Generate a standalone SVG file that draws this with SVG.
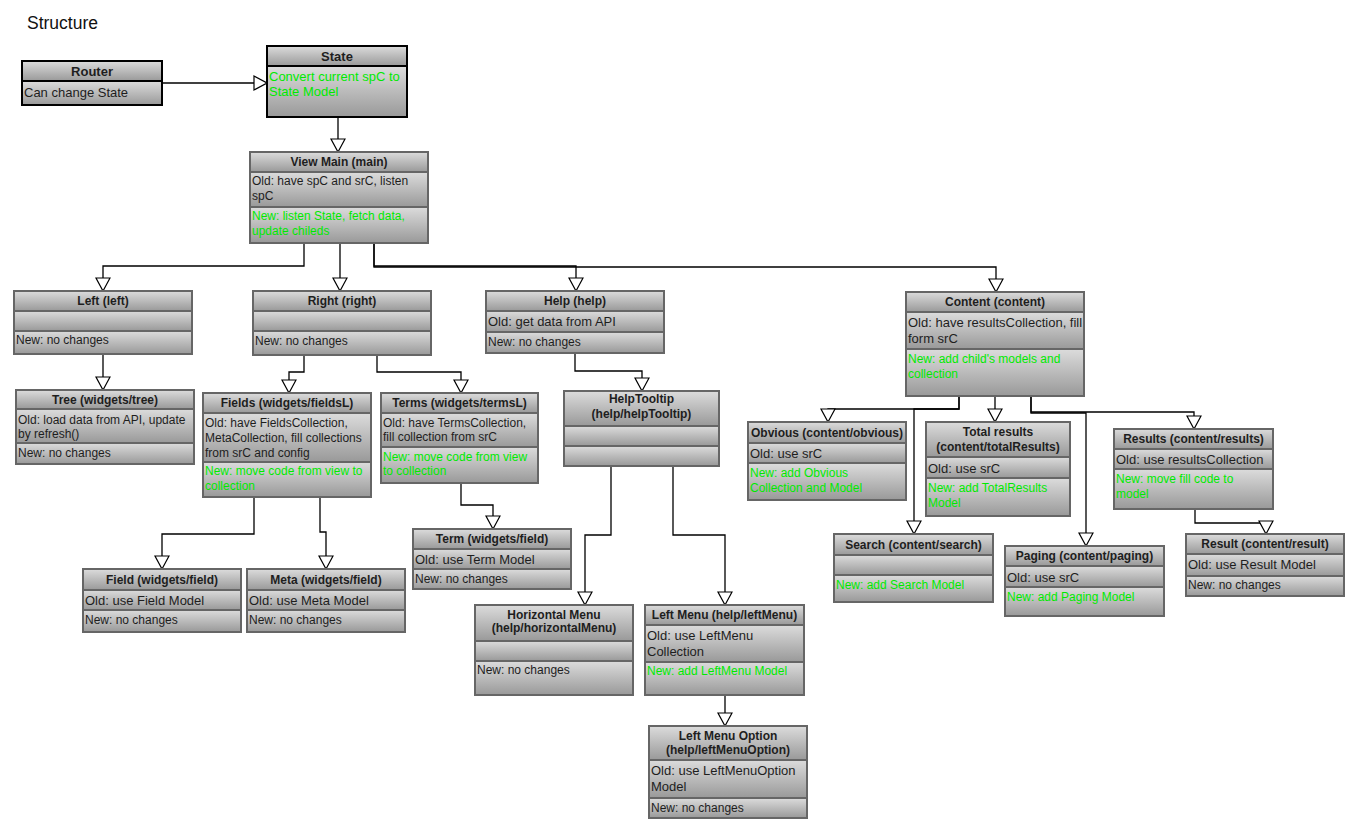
<svg xmlns="http://www.w3.org/2000/svg" width="1364" height="838" viewBox="0 0 1364 838">
<defs>
<linearGradient id="g" x1="0" y1="0" x2="0" y2="1"><stop offset="0" stop-color="#dcdcdc"/><stop offset="1" stop-color="#999"/></linearGradient>
<marker id="tri" viewBox="0 0 15 16" refX="14" refY="8" markerWidth="15" markerHeight="16" markerUnits="userSpaceOnUse" orient="auto"><path d="M1,1 L14,8 L1,15 Z" fill="#fff" stroke="#000" stroke-width="1.2"/></marker>
</defs>
<style>
.b{fill:url(#g);stroke:#666;stroke-width:2}
.k{fill:url(#g);stroke:#000;stroke-width:2}
.h{font-family:"Liberation Sans",Arial,sans-serif;font-size:12px;font-weight:bold;fill:#1e1e1e;text-anchor:middle}
.t{font-family:"Liberation Sans",Arial,sans-serif;font-size:12px;fill:#1e1e1e}
.o{font-family:"Liberation Sans",Arial,sans-serif;font-size:13px;fill:#1e1e1e}
.n{font-family:"Liberation Sans",Arial,sans-serif;font-size:12px;fill:#00ea00}
.big{font-size:13px}
.c{fill:none;stroke:#000;stroke-width:1.3;marker-end:url(#tri)}
</style>
<rect width="1364" height="838" fill="#fff"/>
<text x="27" y="29" font-family="Liberation Sans, Arial, sans-serif" font-size="17.5" fill="#111">Structure</text>

<g id="connectors">
<path class="c" d="M162,83 H267"/>
<path class="c" d="M338,117 V152"/>
<path class="c" d="M304,243 V266 H103 V291"/>
<path class="c" d="M340,243 V291"/>
<path class="c" d="M374,243 V266 H576 V291"/>
<path class="c" d="M374,243 V267 H996 V292"/>
<path class="c" d="M103,354 V390"/>
<path class="c" d="M304,355 V372 H289 V393"/>
<path class="c" d="M377,355 V372 H461 V393"/>
<path class="c" d="M254,497 V534 H162 V569"/>
<path class="c" d="M320,497 V532 H326 V569"/>
<path class="c" d="M461,483 V505 H493 V529"/>
<path class="c" d="M575,353 V371 H642 V391"/>
<path class="c" d="M611,466 V535 H585 V605"/>
<path class="c" d="M673,466 V535 H725 V605"/>
<path class="c" d="M725,695 V726"/>
<path class="c" d="M959,396 V409 H828 V422"/>
<path class="c" d="M959,396 V409 H914 V534"/>
<path class="c" d="M995,396 V422"/>
<path class="c" d="M1031,396 V412 H1194 V429"/>
<path class="c" d="M1031,396 V413 H1086 V546"/>
<path class="c" d="M1195,509 V523 H1266 V534"/>
</g>

<g id="router">
<rect class="k" x="22" y="61" width="140" height="20"/>
<rect class="k" x="22" y="81" width="140" height="24"/>
<text class="h big" x="92" y="76">Router</text>
<text class="t big" x="24" y="97">Can change State</text>
</g>

<g id="state">
<rect class="k" x="267" y="46" width="140" height="20"/>
<rect class="k" x="267" y="66" width="140" height="51"/>
<text class="h big" x="337" y="61">State</text>
<text class="n big" x="269" y="81">Convert current spC to</text>
<text class="n big" x="269" y="96">State Model</text>
</g>

<g id="view-main">
<rect class="b" x="250" y="152" width="178" height="20"/>
<rect class="b" x="250" y="172" width="178" height="35"/>
<rect class="b" x="250" y="207" width="178" height="36"/>
<text class="h" x="339" y="166">View Main (main)</text>
<text class="t" x="252" y="185">Old: have spC and srC, listen</text>
<text class="t" x="252" y="200">spC</text>
<text class="n" x="252" y="220">New: listen State, fetch data,</text>
<text class="n" x="252" y="235">update chileds</text>
</g>

<g id="left">
<rect class="b" x="14" y="291" width="178" height="20"/>
<rect class="b" x="14" y="311" width="178" height="20"/>
<rect class="b" x="14" y="331" width="178" height="23"/>
<text class="h" x="103" y="305">Left (left)</text>
<text class="t" x="16" y="344">New: no changes</text>
</g>

<g id="right">
<rect class="b" x="253" y="291" width="178" height="20"/>
<rect class="b" x="253" y="311" width="178" height="20"/>
<rect class="b" x="253" y="331" width="178" height="24"/>
<text class="h" x="342" y="305">Right (right)</text>
<text class="t" x="255" y="345">New: no changes</text>
</g>

<g id="help">
<rect class="b" x="486" y="291" width="178" height="20"/>
<rect class="b" x="486" y="311" width="178" height="21"/>
<rect class="b" x="486" y="332" width="178" height="21"/>
<text class="h" x="575" y="305">Help (help)</text>
<text class="o" x="488" y="326">Old: get data from API</text>
<text class="t" x="488" y="346">New: no changes</text>
</g>

<g id="content">
<rect class="b" x="906" y="292" width="178" height="20"/>
<rect class="b" x="906" y="312" width="178" height="37"/>
<rect class="b" x="906" y="349" width="178" height="47"/>
<text class="h" x="995" y="306">Content (content)</text>
<text class="o" x="908" y="327">Old: have resultsCollection, fill</text>
<text class="o" x="908" y="342.5">form srC</text>
<text class="n" x="908" y="362.5">New: add child's models and</text>
<text class="n" x="908" y="377.5">collection</text>
</g>

<g id="tree">
<rect class="b" x="16" y="390" width="178" height="19"/>
<rect class="b" x="16" y="409" width="178" height="34"/>
<rect class="b" x="16" y="443" width="178" height="21"/>
<text class="h" x="105" y="404">Tree (widgets/tree)</text>
<text class="t" x="18" y="423.5">Old: load data from API, update</text>
<text class="t" x="18" y="438">by refresh()</text>
<text class="t" x="18" y="457">New: no changes</text>
</g>

<g id="fields">
<rect class="b" x="203" y="393" width="168" height="20"/>
<rect class="b" x="203" y="413" width="168" height="49"/>
<rect class="b" x="203" y="462" width="168" height="35"/>
<text class="h" x="287" y="407">Fields (widgets/fieldsL)</text>
<text class="t" x="205" y="427">Old: have FieldsCollection,</text>
<text class="t" x="205" y="442">MetaCollection, fill collections</text>
<text class="t" x="205" y="457">from srC and config</text>
<text class="n" x="205" y="475">New: move code from view to</text>
<text class="n" x="205" y="490">collection</text>
</g>

<g id="terms">
<rect class="b" x="381" y="393" width="157" height="20"/>
<rect class="b" x="381" y="413" width="157" height="34"/>
<rect class="b" x="381" y="447" width="157" height="36"/>
<text class="h" x="459.5" y="407">Terms (widgets/termsL)</text>
<text class="t" x="383" y="426.5" font-size="12.4">Old: have TermsCollection,</text>
<text class="t" x="383" y="441" font-size="12.4">fill collection from srC</text>
<text class="n" x="383" y="460.5">New: move code from view</text>
<text class="n" x="383" y="475">to collection</text>
</g>

<g id="help-tooltip">
<rect class="b" x="564" y="391" width="155" height="35"/>
<rect class="b" x="564" y="426" width="155" height="20"/>
<rect class="b" x="564" y="446" width="155" height="20"/>
<text class="h" x="641.5" y="403">HelpTooltip</text>
<text class="h" x="641.5" y="418">(help/helpTooltip)</text>
</g>

<g id="field">
<rect class="b" x="83" y="569" width="158" height="21"/>
<rect class="b" x="83" y="590" width="158" height="20"/>
<rect class="b" x="83" y="610" width="158" height="22"/>
<text class="h" x="162" y="584">Field (widgets/field)</text>
<text class="o" x="85" y="605">Old: use Field Model</text>
<text class="t" x="85" y="624">New: no changes</text>
</g>

<g id="meta">
<rect class="b" x="247" y="569" width="158" height="21"/>
<rect class="b" x="247" y="590" width="158" height="20"/>
<rect class="b" x="247" y="610" width="158" height="22"/>
<text class="h" x="326" y="584">Meta (widgets/field)</text>
<text class="o" x="249" y="605">Old: use Meta Model</text>
<text class="t" x="249" y="624">New: no changes</text>
</g>

<g id="term">
<rect class="b" x="413" y="529" width="158" height="20"/>
<rect class="b" x="413" y="549" width="158" height="20"/>
<rect class="b" x="413" y="569" width="158" height="20"/>
<text class="h" x="492" y="543">Term (widgets/field)</text>
<text class="o" x="415" y="564">Old: use Term Model</text>
<text class="t" x="415" y="583">New: no changes</text>
</g>

<g id="horizontal-menu">
<rect class="b" x="475" y="605" width="158" height="36"/>
<rect class="b" x="475" y="641" width="158" height="20"/>
<rect class="b" x="475" y="661" width="158" height="34"/>
<text class="h" x="554" y="619">Horizontal Menu</text>
<text class="h" x="554" y="632">(help/horizontalMenu)</text>
<text class="t" x="477" y="674">New: no changes</text>
</g>

<g id="left-menu">
<rect class="b" x="645" y="605" width="159" height="20"/>
<rect class="b" x="645" y="625" width="159" height="37"/>
<rect class="b" x="645" y="662" width="159" height="33"/>
<text class="h" x="724.5" y="619">Left Menu (help/leftMenu)</text>
<text class="o" x="647" y="640">Old: use LeftMenu</text>
<text class="o" x="647" y="655.5">Collection</text>
<text class="n" x="647" y="675">New: add LeftMenu Model</text>
</g>

<g id="left-menu-option">
<rect class="b" x="649" y="726" width="158" height="34"/>
<rect class="b" x="649" y="760" width="158" height="38"/>
<rect class="b" x="649" y="798" width="158" height="20"/>
<text class="h" x="728" y="739.5">Left Menu Option</text>
<text class="h" x="728" y="754">(help/leftMenuOption)</text>
<text class="o" x="651" y="775">Old: use LeftMenuOption</text>
<text class="o" x="651" y="790.5">Model</text>
<text class="t" x="651" y="811.5">New: no changes</text>
</g>

<g id="obvious">
<rect class="b" x="748" y="422" width="158" height="21"/>
<rect class="b" x="748" y="443" width="158" height="20"/>
<rect class="b" x="748" y="463" width="158" height="37"/>
<text class="h" x="827" y="436.5">Obvious (content/obvious)</text>
<text class="o" x="750" y="457.5">Old: use srC</text>
<text class="n" x="750" y="477">New: add Obvious</text>
<text class="n" x="750" y="492">Collection and Model</text>
</g>

<g id="total-results">
<rect class="b" x="926" y="422" width="144" height="35"/>
<rect class="b" x="926" y="457" width="144" height="21"/>
<rect class="b" x="926" y="478" width="144" height="38"/>
<text class="h" x="998" y="436">Total results</text>
<text class="h" x="998" y="450.5">(content/totalResults)</text>
<text class="o" x="928" y="472.5">Old: use srC</text>
<text class="n" x="928" y="491.5">New: add TotalResults</text>
<text class="n" x="928" y="506.5">Model</text>
</g>

<g id="results">
<rect class="b" x="1114" y="429" width="159" height="20"/>
<rect class="b" x="1114" y="449" width="159" height="20"/>
<rect class="b" x="1114" y="469" width="159" height="40"/>
<text class="h" x="1193.5" y="443">Results (content/results)</text>
<text class="o" x="1116" y="464">Old: use resultsCollection</text>
<text class="n" x="1116" y="482.5">New: move fill code to</text>
<text class="n" x="1116" y="497.5">model</text>
</g>

<g id="result">
<rect class="b" x="1186" y="534" width="158" height="20"/>
<rect class="b" x="1186" y="554" width="158" height="22"/>
<rect class="b" x="1186" y="576" width="158" height="20"/>
<text class="h" x="1265" y="548">Result (content/result)</text>
<text class="o" x="1188" y="569">Old: use Result Model</text>
<text class="t" x="1188" y="589">New: no changes</text>
</g>

<g id="search">
<rect class="b" x="834" y="534" width="159" height="21"/>
<rect class="b" x="834" y="555" width="159" height="20"/>
<rect class="b" x="834" y="575" width="159" height="27"/>
<text class="h" x="913.5" y="548.5">Search (content/search)</text>
<text class="n" x="836" y="589">New: add Search Model</text>
</g>

<g id="paging">
<rect class="b" x="1005" y="546" width="159" height="20"/>
<rect class="b" x="1005" y="566" width="159" height="21"/>
<rect class="b" x="1005" y="587" width="159" height="29"/>
<text class="h" x="1084.5" y="560">Paging (content/paging)</text>
<text class="o" x="1007" y="581.5">Old: use srC</text>
<text class="n" x="1007" y="601">New: add Paging Model</text>
</g>
</svg>
